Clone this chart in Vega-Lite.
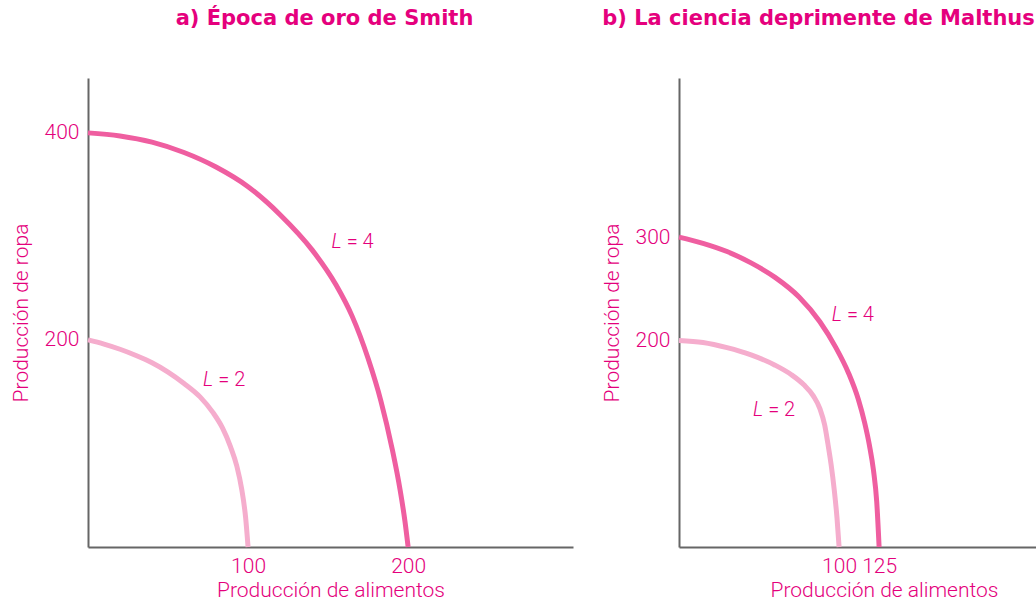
{
  "$schema": "https://vega.github.io/schema/vega-lite/v6.json",
  "background": "white",
  "padding": {"left": 10, "top": 8, "right": 0, "bottom": 0},
  "spacing": 28,
  "datasets": {
    "curves": [
      {"p": "a", "L": 4, "x": 0, "y": 400},
      {"p": "a", "L": 4, "x": 20, "y": 397},
      {"p": "a", "L": 4, "x": 40, "y": 391},
      {"p": "a", "L": 4, "x": 60, "y": 381},
      {"p": "a", "L": 4, "x": 80, "y": 367},
      {"p": "a", "L": 4, "x": 100, "y": 348},
      {"p": "a", "L": 4, "x": 120, "y": 321},
      {"p": "a", "L": 4, "x": 140, "y": 287},
      {"p": "a", "L": 4, "x": 155, "y": 253},
      {"p": "a", "L": 4, "x": 165, "y": 223},
      {"p": "a", "L": 4, "x": 175, "y": 182},
      {"p": "a", "L": 4, "x": 183, "y": 141},
      {"p": "a", "L": 4, "x": 190, "y": 95},
      {"p": "a", "L": 4, "x": 195, "y": 55},
      {"p": "a", "L": 4, "x": 198, "y": 25},
      {"p": "a", "L": 4, "x": 200, "y": 0},
      {"p": "a", "L": 2, "x": 0, "y": 200},
      {"p": "a", "L": 2, "x": 10, "y": 196},
      {"p": "a", "L": 2, "x": 20, "y": 191},
      {"p": "a", "L": 2, "x": 30, "y": 185},
      {"p": "a", "L": 2, "x": 40, "y": 178},
      {"p": "a", "L": 2, "x": 50, "y": 169},
      {"p": "a", "L": 2, "x": 60, "y": 158},
      {"p": "a", "L": 2, "x": 70, "y": 145},
      {"p": "a", "L": 2, "x": 78, "y": 130},
      {"p": "a", "L": 2, "x": 84, "y": 115},
      {"p": "a", "L": 2, "x": 89, "y": 97},
      {"p": "a", "L": 2, "x": 93, "y": 78},
      {"p": "a", "L": 2, "x": 96, "y": 56},
      {"p": "a", "L": 2, "x": 98.5, "y": 28},
      {"p": "a", "L": 2, "x": 100, "y": 0},
      {"p": "b", "L": 4, "x": 0, "y": 300},
      {"p": "b", "L": 4, "x": 15, "y": 294},
      {"p": "b", "L": 4, "x": 30, "y": 286},
      {"p": "b", "L": 4, "x": 45, "y": 275},
      {"p": "b", "L": 4, "x": 60, "y": 261},
      {"p": "b", "L": 4, "x": 75, "y": 242},
      {"p": "b", "L": 4, "x": 88, "y": 218},
      {"p": "b", "L": 4, "x": 98, "y": 193},
      {"p": "b", "L": 4, "x": 106, "y": 168},
      {"p": "b", "L": 4, "x": 112, "y": 143},
      {"p": "b", "L": 4, "x": 116, "y": 120},
      {"p": "b", "L": 4, "x": 119, "y": 98},
      {"p": "b", "L": 4, "x": 121.5, "y": 74},
      {"p": "b", "L": 4, "x": 123.5, "y": 44},
      {"p": "b", "L": 4, "x": 125, "y": 0},
      {"p": "b", "L": 2, "x": 0, "y": 200},
      {"p": "b", "L": 2, "x": 15, "y": 198},
      {"p": "b", "L": 2, "x": 30, "y": 193},
      {"p": "b", "L": 2, "x": 45, "y": 186},
      {"p": "b", "L": 2, "x": 60, "y": 176},
      {"p": "b", "L": 2, "x": 70, "y": 167},
      {"p": "b", "L": 2, "x": 78, "y": 157},
      {"p": "b", "L": 2, "x": 84, "y": 146},
      {"p": "b", "L": 2, "x": 88, "y": 134},
      {"p": "b", "L": 2, "x": 91, "y": 118},
      {"p": "b", "L": 2, "x": 93, "y": 100},
      {"p": "b", "L": 2, "x": 95, "y": 80},
      {"p": "b", "L": 2, "x": 97, "y": 55},
      {"p": "b", "L": 2, "x": 98.7, "y": 28},
      {"p": "b", "L": 2, "x": 100, "y": 0}
    ],
    "labels": [
      {"p": "a", "x": 159.7, "y": 295, "name": "L", "eq": "= 4"},
      {"p": "a", "x": 79.5, "y": 161, "name": "L", "eq": "= 2"},
      {"p": "b", "x": 103, "y": 225, "name": "L", "eq": "= 4"},
      {"p": "b", "x": 53.8, "y": 133, "name": "L", "eq": "= 2"}
    ]
  },
  "hconcat": [
    {
      "title": {"text": "a) Época de oro de Smith", "dx": -6},
      "width": 485,
      "height": 469,
      "layer": [
        {
          "data": {"name": "curves"},
          "transform": [{"filter": "datum.p == 'a'"}],
          "mark": {"type": "line", "interpolate": "monotone", "strokeWidth": 5, "strokeCap": "butt"},
          "encoding": {
            "x": {"field": "x", "type": "quantitative", "scale": {"domain": [0, 303], "nice": false}, "axis": {"values": [100, 200], "title": "Producción de alimentos"}},
            "y": {"field": "y", "type": "quantitative", "scale": {"domain": [0, 453], "nice": false}, "axis": {"values": [200, 400], "title": "Producción de ropa"}},
            "color": {"field": "L", "type": "nominal", "scale": {"domain": [2, 4], "range": ["#f5adcd", "#ef5ea0"]}, "legend": null},
            "detail": {"field": "L"}
          }
        },
        {
          "data": {"name": "labels"},
          "transform": [{"filter": "datum.p == 'a'"}],
          "mark": {"type": "text", "align": "right", "baseline": "middle", "fontStyle": "italic", "dx": -2, "font": "Roboto", "fontWeight": 300, "fontSize": 20, "color": "#e4007c"},
          "encoding": {
            "x": {"field": "x", "type": "quantitative"},
            "y": {"field": "y", "type": "quantitative"},
            "text": {"field": "name"}
          }
        },
        {
          "data": {"name": "labels"},
          "transform": [{"filter": "datum.p == 'a'"}],
          "mark": {"type": "text", "align": "left", "baseline": "middle", "dx": 3, "font": "Roboto", "fontWeight": 300, "fontSize": 20, "color": "#e4007c"},
          "encoding": {
            "x": {"field": "x", "type": "quantitative"},
            "y": {"field": "y", "type": "quantitative"},
            "text": {"field": "eq"}
          }
        }
      ]
    },
    {
      "title": {"text": "b) La ciencia deprimente de Malthus", "dx": -39},
      "width": 357,
      "height": 469,
      "layer": [
        {
          "data": {"name": "curves"},
          "transform": [{"filter": "datum.p == 'b'"}],
          "mark": {"type": "line", "interpolate": "monotone", "strokeWidth": 5, "strokeCap": "butt"},
          "encoding": {
            "x": {"field": "x", "type": "quantitative", "scale": {"domain": [0, 223], "nice": false}, "axis": {"values": [100, 125], "title": "Producción de alimentos", "titleX": 205}},
            "y": {"field": "y", "type": "quantitative", "scale": {"domain": [0, 454], "nice": false}, "axis": {"values": [200, 300], "title": "Producción de ropa"}},
            "color": {"field": "L", "type": "nominal", "scale": {"domain": [2, 4], "range": ["#f5adcd", "#ef5ea0"]}, "legend": null},
            "detail": {"field": "L"}
          }
        },
        {
          "data": {"name": "labels"},
          "transform": [{"filter": "datum.p == 'b'"}],
          "mark": {"type": "text", "align": "right", "baseline": "middle", "fontStyle": "italic", "dx": -2, "font": "Roboto", "fontWeight": 300, "fontSize": 20, "color": "#e4007c"},
          "encoding": {
            "x": {"field": "x", "type": "quantitative"},
            "y": {"field": "y", "type": "quantitative"},
            "text": {"field": "name"}
          }
        },
        {
          "data": {"name": "labels"},
          "transform": [{"filter": "datum.p == 'b'"}],
          "mark": {"type": "text", "align": "left", "baseline": "middle", "dx": 3, "font": "Roboto", "fontWeight": 300, "fontSize": 20, "color": "#e4007c"},
          "encoding": {
            "x": {"field": "x", "type": "quantitative"},
            "y": {"field": "y", "type": "quantitative"},
            "text": {"field": "eq"}
          }
        }
      ]
    }
  ],
  "resolve": {"scale": {"color": "independent"}},
  "config": {
    "view": {"stroke": null},
    "title": {"font": "DejaVu Sans", "fontSize": 21, "fontWeight": "bold", "color": "#e5007d", "offset": 49, "anchor": "middle"},
    "axis": {
      "grid": false,
      "ticks": false,
      "domainColor": "#666666",
      "domainWidth": 2,
      "labelFont": "Roboto",
      "labelFontWeight": 300,
      "labelFontSize": 21,
      "labelColor": "#e4007c",
      "titleFont": "Roboto",
      "titleFontSize": 21,
      "titleFontWeight": 300,
      "titleColor": "#e4007c"
    },
    "axisX": {"labelPadding": 8, "titlePadding": 3},
    "axisY": {"labelPadding": 9, "titlePadding": 13}
  }
}
